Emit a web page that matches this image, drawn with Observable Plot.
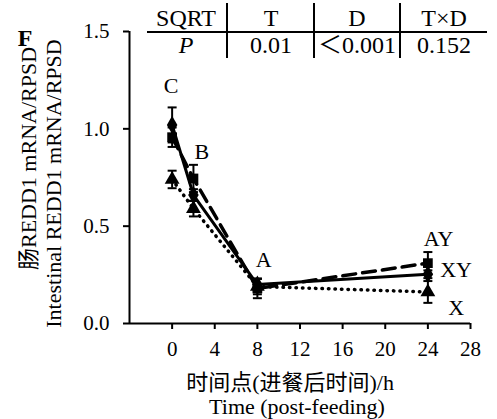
<!DOCTYPE html>
<html>
<head>
<meta charset="utf-8">
<script src="https://cdn.jsdelivr.net/npm/d3@7"></script>
<script src="https://cdn.jsdelivr.net/npm/@observablehq/plot@0.6"></script>
<style>
  body { margin: 0; background: #fff; }
  #wrap { position: relative; width: 497px; height: 419px; font-family: "Liberation Serif", "Noto Sans CJK SC", serif; color: #000; }
  #wrap svg text { font-family: "Liberation Serif", "Noto Sans CJK SC", serif; }
  #wrap svg [aria-label^="x-axis"] path, #wrap svg [aria-label^="y-axis"] path,
  #wrap svg [aria-label^="x-axis"] line, #wrap svg [aria-label^="y-axis"] line { stroke-width: 2px; }
  .cell { position: absolute; transform: translate(-50%, -50%); font-size: 24px; white-space: nowrap; line-height: 1; }
  .hline, .vline { position: absolute; background: #000; }
</style>
</head>
<body>
<div id="wrap"></div>
<script>
// ---- data ----
const times = [0, 2, 8, 24];
const diamondValues = [1.02, 0.66, 0.20, 0.253];
const diamondSE     = [0.09, 0.03, 0.03, 0.02];
const squareValues  = [0.957, 0.745, 0.18, 0.31];
const squareSE      = [0.05, 0.07, 0.05, 0.057];
const triangleValues = [0.74, 0.59, 0.19, 0.162];
const triangleSE     = [0.045, 0.04, 0.04, 0.056];
const xTicks = [0, 4, 8, 12, 16, 20, 24, 28];
const yTicks = [0, 0.5, 1.0, 1.5];
const letterText = ["C", "B", "A", "AY", "XY", "X"];
const letterX = [-0.1, 2.8, 8.6, 25.0, 26.65, 26.65];
const letterY = [1.22, 0.88, 0.325, 0.435, 0.273, 0.078];
const yLabel1 = "肠REDD1 mRNA/RPSD";
const yLabel2 = "Intestinal REDD1 mRNA/RPSD";
const xLabel1 = "时间点(进餐后时间)/h";
const xLabel2 = "Time (post-feeding)";
const panelLetter = "F";
const tableHead = ["SQRT", "T", "D", "T×D"];
const tableRow = ["P", "0.01", "＜0.001", "0.152"];

const FONT = '"Liberation Serif", "Noto Sans CJK SC", serif';
const mk = (vals, se) => times.map((t, i) => ({x: t, y: vals[i], se: se[i]}));
const dia = mk(diamondValues, diamondSE);
const sq = mk(squareValues, squareSE);
const tri = mk(triangleValues, triangleSE);
const letters = letterText.map((t, i) => ({t, x: letterX[i], y: letterY[i]}));

const cap = {draw(ctx, size) { const r = Math.sqrt(size / Math.PI); ctx.moveTo(-r, 0); ctx.lineTo(r, 0); }};

function errs(data) {
  return [
    Plot.ruleX(data, {x: "x", y1: d => d.y - d.se, y2: d => d.y + d.se, stroke: "black", strokeWidth: 2}),
    Plot.dot(data, {x: "x", y: d => d.y + d.se, symbol: cap, r: 4.5, stroke: "black", strokeWidth: 2}),
    Plot.dot(data, {x: "x", y: d => d.y - d.se, symbol: cap, r: 4.5, stroke: "black", strokeWidth: 2})
  ];
}

const txt = {fontSize: 22, fill: "black", fontFamily: FONT, textAnchor: "middle", lineAnchor: "middle"};

const chart = Plot.plot({
  width: 497, height: 419,
  marginLeft: 129, marginRight: 27, marginTop: 31, marginBottom: 96,
  style: {fontFamily: FONT, fontSize: "21px", color: "black", background: "transparent", overflow: "visible"},
  x: {domain: [-4, 28], ticks: xTicks, tickSize: 6, tickPadding: 12, label: null},
  y: {domain: [0, 1.5], ticks: yTicks, tickSize: 6, tickPadding: 14, tickFormat: d3.format(".1f"), label: null},
  marks: [
    Plot.ruleY([0], {stroke: "black", strokeWidth: 2}),
    Plot.ruleX([-4], {stroke: "black", strokeWidth: 2}),
    ...errs(tri), ...errs(sq), ...errs(dia),
    Plot.line(tri, {x: "x", y: "y", stroke: "black", strokeWidth: 3.5, strokeDasharray: "0.5,6", strokeLinecap: "round"}),
    Plot.line(sq, {x: "x", y: "y", stroke: "black", strokeWidth: 3.5, strokeDasharray: "13,7"}),
    Plot.line(dia, {x: "x", y: "y", stroke: "black", strokeWidth: 3}),
    Plot.dot(tri, {x: "x", y: "y", symbol: "triangle", r: 5.5, fill: "black"}),
    Plot.dot(sq, {x: "x", y: "y", symbol: "square", r: 5.5, fill: "black"}),
    Plot.dot(dia, {x: "x", y: "y", symbol: "diamond", r: 5.5, fill: "black"}),
    Plot.text(letters, {x: "x", y: "y", text: "t", ...txt}),
    Plot.text([yLabel1], {text: d => d, frameAnchor: "left", rotate: -90, dx: -101, dy: -19, ...txt}),
    Plot.text([yLabel2], {text: d => d, frameAnchor: "left", rotate: -90, dx: -76, dy: 6, ...txt}),
    Plot.text([xLabel1], {text: d => d, frameAnchor: "bottom", dx: -10, dy: 59, ...txt}),
    Plot.text([xLabel2], {text: d => d, frameAnchor: "bottom", dx: -3, dy: 83, ...txt})
  ]
});

const wrap = document.getElementById("wrap");
wrap.appendChild(chart);

// panel letter
const f = document.createElement("div");
f.className = "cell"; f.textContent = panelLetter;
f.style.left = "25px"; f.style.top = "38px"; f.style.fontWeight = "bold"; f.style.fontSize = "24px";
wrap.appendChild(f);

// table overlay
const colCenters = [186, 271, 357, 444];
tableHead.forEach((t, i) => {
  const c = document.createElement("div"); c.className = "cell"; c.textContent = t;
  c.style.left = colCenters[i] + "px"; c.style.top = "18px"; wrap.appendChild(c);
});
tableRow.forEach((t, i) => {
  const c = document.createElement("div"); c.className = "cell"; c.textContent = t;
  c.style.left = colCenters[i] + "px"; c.style.top = "45px";
  if (i === 0) c.style.fontStyle = "italic";
  wrap.appendChild(c);
});
const hl = document.createElement("div"); hl.className = "hline";
hl.style.left = "147px"; hl.style.top = "31px"; hl.style.width = "340px"; hl.style.height = "2px";
wrap.appendChild(hl);
[227, 314, 400].forEach(x => {
  const v = document.createElement("div"); v.className = "vline";
  v.style.left = (x - 1) + "px"; v.style.top = "3px"; v.style.width = "2px"; v.style.height = "55px";
  wrap.appendChild(v);
});
</script>
</body>
</html>
